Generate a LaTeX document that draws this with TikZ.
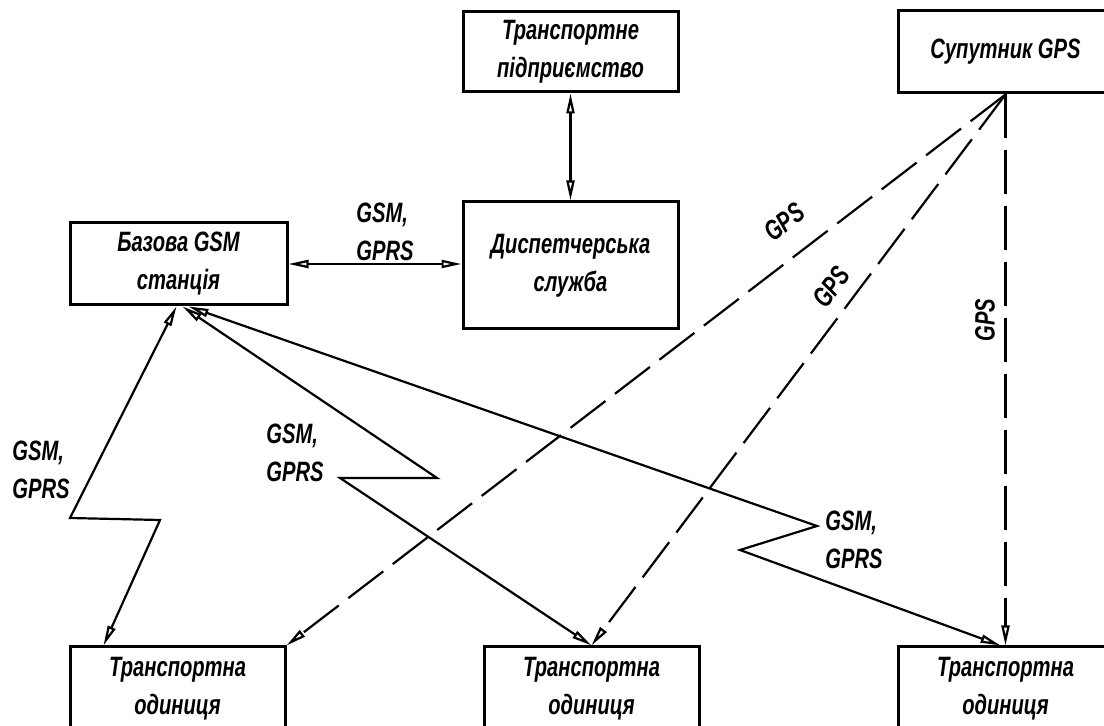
\documentclass[tikz,border=0pt]{standalone}
\usepackage{fontspec}
\newfontfamily\gostfont{Liberation Sans}[FakeStretch=0.72]
\usetikzlibrary{arrows.meta,positioning,calc}

\begin{document}
\begin{tikzpicture}[x=0.5pt, y=-0.5pt,
    font=\gostfont\bfseries\itshape\fontsize{14}{19}\selectfont,
    strilka/.tip={Triangle[open, length=10pt, width=4pt]},
    blok/.style={draw, line width=1.5pt, minimum width=107.5pt, align=center, inner sep=0pt},
    zvyazok/.style={line width=1.1pt, strilka-strilka},
    gpslinia/.style={line width=1.1pt, dash pattern=on 22pt off 6pt, -strilka},
    pidpys/.style={align=left, inner sep=0pt}]
    \useasboundingbox (0,0) rectangle (1104,726);
    \clip (0,0) rectangle (1104,726);
    % bloky
    \node[blok, minimum height=40pt] (tp) at (570.5,52) {Транспортне\\підприємство};
    \node[blok, minimum height=41pt] (sat) at (1005.5,52) {Супутник GPS};
    \node[blok, minimum height=63.5pt] (disp) at (570.5,265.5) {Диспетчерська\\служба};
    \node[blok, minimum height=41pt, minimum width=108.5pt] (base) at (178.5,264) {Базова GSM\\станція};
    \node[blok, minimum height=42pt] (u1) at (177.5,689) {Транспортна\\одиниця};
    \node[blok, minimum height=42pt] (u2) at (591.5,689) {Транспортна\\одиниця};
    \node[blok, minimum height=42pt] (u3) at (1005.5,689) {Транспортна\\одиниця};
    % zvyazky
    \draw[zvyazok] (tp.south) -- (disp.north);
    \draw[zvyazok] (base.east) -- (base.east -| disp.west);
    \node[pidpys] (l0) at (385,232) {GSM,\\GPRS};
    % zlamani liniji GSM
    \coordinate (z1a) at (70,518);
    \coordinate (z1b) at (160,520);
    \coordinate (z2a) at (437,478);
    \coordinate (z2b) at (340,478);
    \coordinate (z3a) at (817,526);
    \coordinate (z3b) at (740,550);
    \draw[zvyazok] ([xshift=-1pt]base.south) -- (z1a) -- (z1b) -- ([xshift=-37pt]u1.north);
    \draw[zvyazok] ([xshift=2pt]base.south) -- (z2a) -- (z2b) -- (u2.north);
    \draw[zvyazok] ([xshift=5pt]base.south) -- (z3a) -- (z3b) -- ([xshift=-2.5pt]u3.north);
    \node[pidpys] (l1) at (41,470) {GSM,\\GPRS};
    \node[pidpys] (l2) at (295,453) {GSM,\\GPRS};
    \node[pidpys] (l3) at (854,540) {GSM,\\GPRS};
    % GPS
    \draw[gpslinia] (sat.south) -- (u1.north east);
    \draw[gpslinia] (sat.south) -- (u2.north);
    \draw[gpslinia] (sat.south) -- (u3.north);
    \node[rotate=37.6] (g1) at (784,222) {GPS};
    \node[rotate=53.4] (g2) at (831,287) {GPS};
    \node[rotate=90] (g3) at (985,320) {GPS};
\end{tikzpicture}
\end{document}
